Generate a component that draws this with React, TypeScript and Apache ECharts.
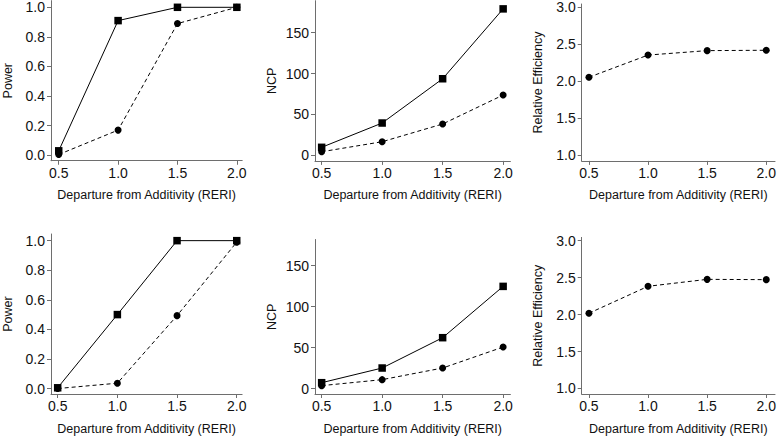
import React, { useEffect, useRef } from "react";
import * as echarts from "echarts";

const reri = [0.5, 1.0, 1.5, 2.0];
const xTicks = [0.5, 1.0, 1.5, 2.0];
const powerTicks = [0, 0.2, 0.4, 0.6, 0.8, 1.0];
const ncpTicks = [0, 50, 100, 150];
const reTicks = [1.0, 1.5, 2.0, 2.5, 3.0];

const powerTopSquare = [0.03, 0.91, 1.0, 1.0];
const powerTopCircle = [0.005, 0.17, 0.89, 1.0];
const ncpTopSquare = [9.8, 39.5, 93.6, 179];
const ncpTopCircle = [4.4, 16.6, 38.3, 73.7];
const reTop = [2.055, 2.355, 2.415, 2.42];

const powerBottomSquare = [0.005, 0.5, 1.0, 1.0];
const powerBottomCircle = [0.0, 0.036, 0.493, 0.99];
const ncpBottomSquare = [7.3, 25.2, 62.2, 124.8];
const ncpBottomCircle = [3.7, 11.0, 25.2, 50.8];
const reBottom = [2.018, 2.383, 2.477, 2.473];

const FONT = "'Liberation Sans', Arial, sans-serif";
const AXIS_COLOR = "#6e6e6e";
const TEXT_COLOR = "#111";

type Panel = {
  grid: { left: number; top: number; width: number; height: number };
  x: [number, number];
  y: [number, number];
  yTicks: number[];
  yName: string;
  yDec: number;
  square?: number[];
  circle: number[];
};

const panels: Panel[] = [
  { grid: { left: 49, top: 0.64, width: 193.2, height: 160.1 }, x: [0.435, 2.045], y: [-0.037, 1.045], yTicks: powerTicks, yName: "Power", yDec: 1, square: powerTopSquare, circle: powerTopCircle },
  { grid: { left: 315, top: 0.7, width: 195.4, height: 160.2 }, x: [0.445, 2.06], y: [-6.8, 189], yTicks: ncpTicks, yName: "NCP", yDec: 0, square: ncpTopSquare, circle: ncpTopCircle },
  { grid: { left: 581.7, top: 4.0, width: 197, height: 156.9 }, x: [0.439, 2.074], y: [0.925, 3.045], yTicks: reTicks, yName: "Relative Efficiency", yDec: 1, circle: reTop },
  { grid: { left: 50, top: 234.0, width: 192.1, height: 160.1 }, x: [0.444, 2.045], y: [-0.037, 1.045], yTicks: powerTicks, yName: "Power", yDec: 1, square: powerBottomSquare, circle: powerBottomCircle },
  { grid: { left: 315, top: 239.5, width: 195.4, height: 154.6 }, x: [0.445, 2.06], y: [-6.5, 182], yTicks: ncpTicks, yName: "NCP", yDec: 0, square: ncpBottomSquare, circle: ncpBottomCircle },
  { grid: { left: 581.7, top: 237.4, width: 197, height: 156.9 }, x: [0.439, 2.074], y: [0.925, 3.045], yTicks: reTicks, yName: "Relative Efficiency", yDec: 1, circle: reBottom },
];

export default function App() {
  const ref = useRef<HTMLDivElement>(null);
  useEffect(() => {
    document.body.style.margin = "0";
    const chart = echarts.init(ref.current!, null, { renderer: "svg" });
    const grids: any[] = [];
    const xAxes: any[] = [];
    const yAxes: any[] = [];
    const series: any[] = [];
    panels.forEach((p, i) => {
      grids.push({ ...p.grid, containLabel: false });
      xAxes.push({
        type: "value",
        gridIndex: i,
        min: p.x[0],
        max: p.x[1],
        name: "Departure from Additivity (RERI)",
        nameLocation: "middle",
        nameGap: 28,
        nameTextStyle: { fontFamily: FONT, fontSize: 12.5, color: TEXT_COLOR },
        axisLine: { show: true, onZero: false, lineStyle: { color: AXIS_COLOR, width: 1 } },
        axisTick: { show: true, length: 4, customValues: xTicks, lineStyle: { color: AXIS_COLOR } },
        axisLabel: {
          show: true,
          margin: 5,
          customValues: xTicks,
          formatter: (v: number) => v.toFixed(1),
          fontFamily: FONT,
          fontSize: 14,
          color: TEXT_COLOR,
        },
        splitLine: { show: false },
      });
      yAxes.push({
        type: "value",
        gridIndex: i,
        min: p.y[0],
        max: p.y[1],
        name: p.yName,
        nameLocation: "middle",
        nameGap: 37,
        nameRotate: 90,
        nameTextStyle: { fontFamily: FONT, fontSize: 12.5, color: TEXT_COLOR },
        axisLine: { show: true, onZero: false, lineStyle: { color: AXIS_COLOR, width: 1 } },
        axisTick: { show: true, length: 4, customValues: p.yTicks, lineStyle: { color: AXIS_COLOR } },
        axisLabel: {
          show: true,
          margin: 6,
          customValues: p.yTicks,
          formatter: (v: number) => v.toFixed(p.yDec),
          fontFamily: FONT,
          fontSize: 14,
          color: TEXT_COLOR,
        },
        splitLine: { show: false },
      });
      if (p.square) {
        series.push({
          type: "line",
          xAxisIndex: i,
          yAxisIndex: i,
          data: reri.map((x, k) => [x, p.square![k]]),
          symbol: "rect",
          symbolSize: 7.5,
          clip: false,
          lineStyle: { color: "#000", width: 1, type: "solid" },
          itemStyle: { color: "#000" },
        });
      }
      series.push({
        type: "line",
        xAxisIndex: i,
        yAxisIndex: i,
        data: reri.map((x, k) => [x, p.circle[k]]),
        symbol: "circle",
        symbolSize: 7,
        clip: false,
        lineStyle: { color: "#000", width: 1, type: [4, 3] },
        itemStyle: { color: "#000" },
      });
    });
    chart.setOption({
      animation: false,
      backgroundColor: "#fff",
      grid: grids,
      xAxis: xAxes,
      yAxis: yAxes,
      series,
    });
    return () => chart.dispose();
  }, []);
  return (
    <div
      ref={ref}
      style={{ position: "absolute", left: 0, top: 0, width: 779, height: 436 }}
    />
  );
}
